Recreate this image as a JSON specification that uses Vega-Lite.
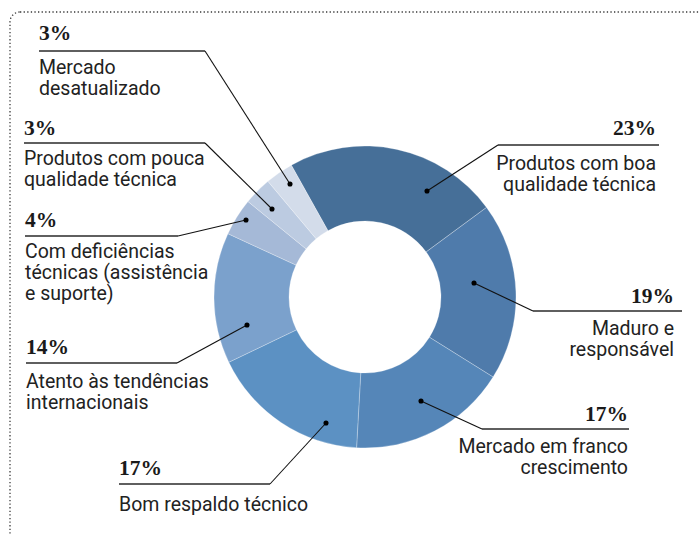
{
  "$schema": "https://vega.github.io/schema/vega-lite/v6.json",
  "width": 700,
  "height": 534,
  "padding": 0,
  "autosize": {"type": "none"},
  "background": "white",
  "config": {"view": {"stroke": null}},
  "data": {
    "values": [
      {"cat": "Produtos com boa qualidade técnica", "share": 0.23, "ord": 1, "lines": ["Produtos com boa", "qualidade técnica"], "side": "R", "lx": 656, "ly_pct": 135, "ly_txt": 170, "bar_x1": 498, "bar_x2": 659, "bar_y": 145, "knee_x": 498, "dot_x": 427, "dot_y": 191},
      {"cat": "Maduro e responsável", "share": 0.19, "ord": 2, "lines": ["Maduro e", "responsável"], "side": "R", "lx": 674, "ly_pct": 303, "ly_txt": 335, "bar_x1": 533, "bar_x2": 682, "bar_y": 311, "knee_x": 533, "dot_x": 474, "dot_y": 283},
      {"cat": "Mercado em franco crescimento", "share": 0.17, "ord": 3, "lines": ["Mercado em franco", "crescimento"], "side": "R", "lx": 628, "ly_pct": 421, "ly_txt": 453, "bar_x1": 482, "bar_x2": 629, "bar_y": 429, "knee_x": 482, "dot_x": 421, "dot_y": 401},
      {"cat": "Bom respaldo técnico", "share": 0.17, "ord": 4, "lines": ["Bom respaldo técnico"], "side": "L", "lx": 119, "ly_pct": 475, "ly_txt": 511, "bar_x1": 119, "bar_x2": 270, "bar_y": 484, "knee_x": 270, "dot_x": 326, "dot_y": 423},
      {"cat": "Atento às tendências internacionais", "share": 0.14, "ord": 5, "lines": ["Atento às tendências", "internacionais"], "side": "L", "lx": 26, "ly_pct": 354, "ly_txt": 388, "bar_x1": 26, "bar_x2": 177, "bar_y": 363, "knee_x": 177, "dot_x": 247, "dot_y": 325},
      {"cat": "Com deficiências técnicas (assistência e suporte)", "share": 0.04, "ord": 6, "lines": ["Com deficiências", "técnicas (assistência", "e suporte)"], "side": "L", "lx": 25, "ly_pct": 227, "ly_txt": 258, "bar_x1": 25, "bar_x2": 178, "bar_y": 236, "knee_x": 178, "dot_x": 246, "dot_y": 220},
      {"cat": "Produtos com pouca qualidade técnica", "share": 0.03, "ord": 7, "lines": ["Produtos com pouca", "qualidade técnica"], "side": "L", "lx": 24, "ly_pct": 135, "ly_txt": 165, "bar_x1": 24, "bar_x2": 205, "bar_y": 143, "knee_x": 205, "dot_x": 272, "dot_y": 209},
      {"cat": "Mercado desatualizado", "share": 0.03, "ord": 8, "lines": ["Mercado", "desatualizado"], "side": "L", "lx": 39, "ly_pct": 40, "ly_txt": 74, "bar_x1": 39, "bar_x2": 205, "bar_y": 51, "knee_x": 205, "dot_x": 290, "dot_y": 184}
    ]
  },
  "layer": [
    {
      "data": {"values": [{"frame": "border"}]},
      "mark": {"type": "rect", "fill": null, "stroke": "#3a3a3a", "strokeWidth": 1.3, "strokeDash": [1.3, 2.3], "cornerRadius": 10},
      "encoding": {
        "x": {"datum": 10, "type": "quantitative", "scale": {"domain": [0, 700], "nice": false, "zero": false}, "axis": null},
        "x2": {"datum": 760},
        "y": {"datum": 12, "type": "quantitative", "scale": {"domain": [0, 534], "reverse": true, "nice": false, "zero": false}, "axis": null},
        "y2": {"datum": 600}
      }
    },
    {
      "mark": {"type": "arc", "outerRadius": 151, "innerRadius": 76, "stroke": "#ffffff", "strokeWidth": 0.6, "strokeOpacity": 0.45},
      "encoding": {
        "x": {"datum": 365, "type": "quantitative", "scale": {"domain": [0, 700], "nice": false, "zero": false}, "axis": null},
        "y": {"datum": 297, "type": "quantitative", "scale": {"domain": [0, 534], "reverse": true, "nice": false, "zero": false}, "axis": null},
        "theta": {"field": "share", "type": "quantitative", "stack": true, "scale": {"domain": [0, 1], "range": [-0.5096, 5.7736]}},
        "order": {"field": "ord", "type": "quantitative"},
        "color": {
          "field": "cat", "type": "nominal", "legend": null,
          "scale": {
            "domain": ["Produtos com boa qualidade técnica", "Maduro e responsável", "Mercado em franco crescimento", "Bom respaldo técnico", "Atento às tendências internacionais", "Com deficiências técnicas (assistência e suporte)", "Produtos com pouca qualidade técnica", "Mercado desatualizado"],
            "range": ["#466f98", "#4f7bab", "#5586b8", "#5c91c3", "#7ba1cc", "#a5b9d7", "#bccbe1", "#d3dcea"]
          }
        }
      }
    },
    {
      "mark": {"type": "rule", "color": "#2a2a2a", "strokeWidth": 1.3},
      "encoding": {
        "x": {"field": "bar_x1", "type": "quantitative"},
        "x2": {"field": "bar_x2"},
        "y": {"field": "bar_y", "type": "quantitative"}
      }
    },
    {
      "mark": {"type": "rule", "color": "#111111", "strokeWidth": 1.1},
      "encoding": {
        "x": {"field": "knee_x", "type": "quantitative"},
        "y": {"field": "bar_y", "type": "quantitative"},
        "x2": {"field": "dot_x"},
        "y2": {"field": "dot_y"}
      }
    },
    {
      "mark": {"type": "point", "filled": true, "color": "#000000", "size": 26, "opacity": 1},
      "encoding": {
        "x": {"field": "dot_x", "type": "quantitative"},
        "y": {"field": "dot_y", "type": "quantitative"}
      }
    },
    {
      "transform": [{"filter": "datum.side === 'L'"}],
      "mark": {"type": "text", "align": "left", "baseline": "alphabetic", "font": "Liberation Serif", "fontWeight": "bold", "fontSize": 21.5, "color": "#1a1a1a"},
      "encoding": {
        "x": {"field": "lx", "type": "quantitative"},
        "y": {"field": "ly_pct", "type": "quantitative"},
        "text": {"field": "share", "type": "quantitative", "format": ".0%"}
      }
    },
    {
      "transform": [{"filter": "datum.side === 'R'"}],
      "mark": {"type": "text", "align": "right", "baseline": "alphabetic", "font": "Liberation Serif", "fontWeight": "bold", "fontSize": 21.5, "color": "#1a1a1a"},
      "encoding": {
        "x": {"field": "lx", "type": "quantitative"},
        "y": {"field": "ly_pct", "type": "quantitative"},
        "text": {"field": "share", "type": "quantitative", "format": ".0%"}
      }
    },
    {
      "transform": [{"filter": "datum.side === 'L'"}],
      "mark": {"type": "text", "align": "left", "baseline": "alphabetic", "font": "Roboto", "fontSize": 19.5, "lineHeight": 21, "color": "#222222"},
      "encoding": {
        "x": {"field": "lx", "type": "quantitative"},
        "y": {"field": "ly_txt", "type": "quantitative"},
        "text": {"field": "lines"}
      }
    },
    {
      "transform": [{"filter": "datum.side === 'R'"}],
      "mark": {"type": "text", "align": "right", "baseline": "alphabetic", "font": "Roboto", "fontSize": 19.5, "lineHeight": 21, "color": "#222222"},
      "encoding": {
        "x": {"field": "lx", "type": "quantitative"},
        "y": {"field": "ly_txt", "type": "quantitative"},
        "text": {"field": "lines"}
      }
    }
  ]
}
